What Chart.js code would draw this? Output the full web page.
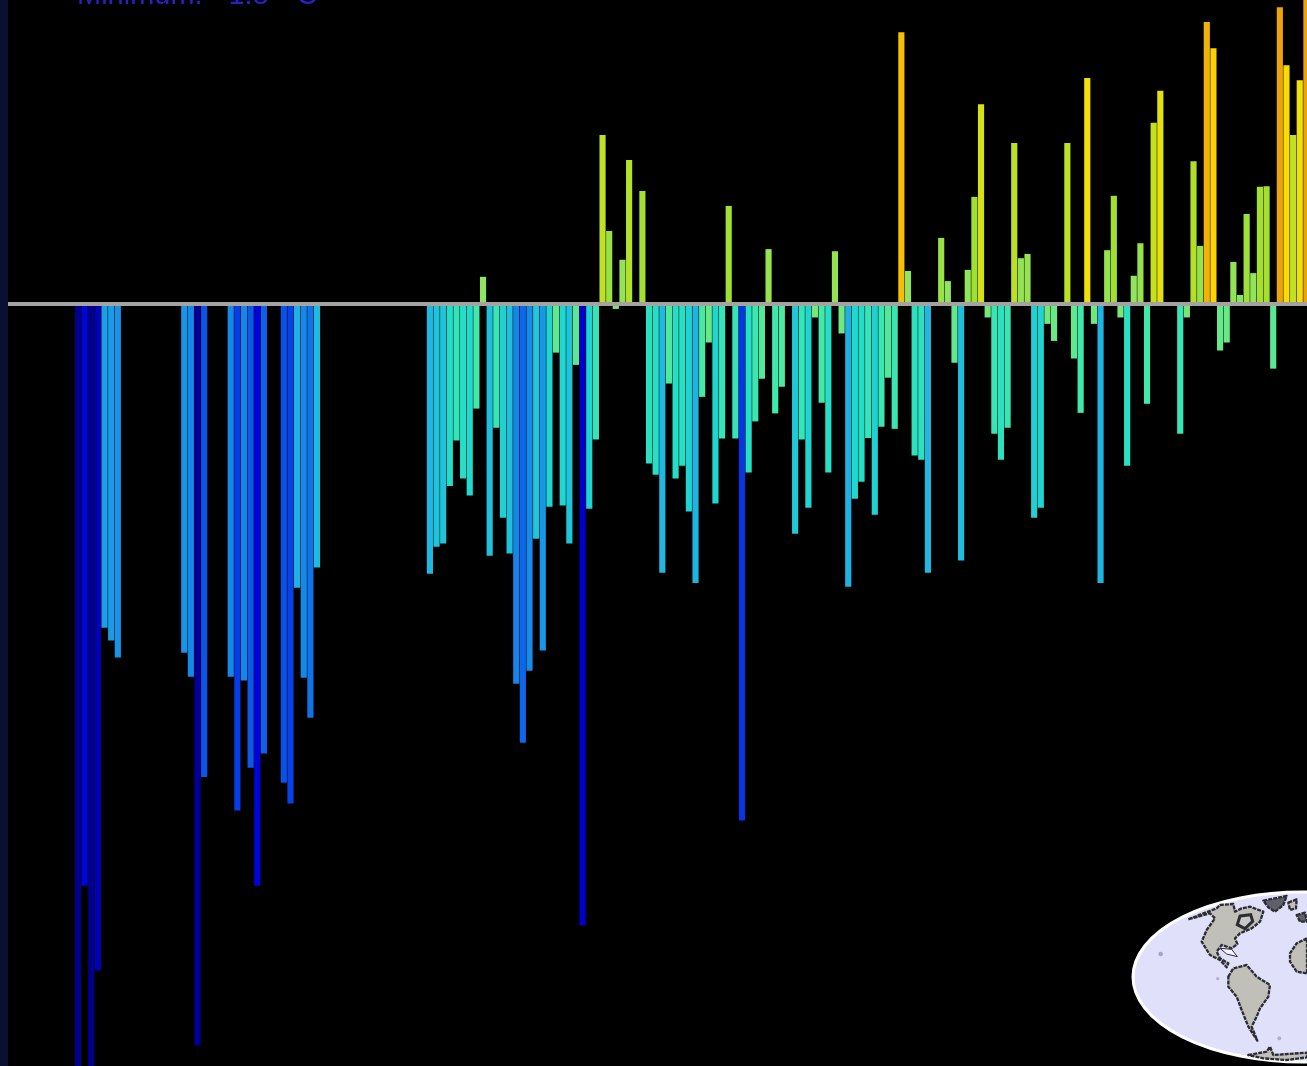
<!DOCTYPE html>
<html>
<head>
<meta charset="utf-8">
<title>Temperature anomaly bars</title>
<script src="https://cdn.jsdelivr.net/npm/chart.js@4"></script>
<style>
  html, body { margin: 0; padding: 0; width: 1307px; height: 1066px; overflow: hidden; background: #0a1130; }
  #panel { position: absolute; left: 8px; top: 0; width: 1299px; height: 1066px; background: #000; overflow: hidden; }
  #chart { display: block; filter: blur(0.7px); }
  #minLabel { position: absolute; left: 69px; top: -22px; font: 29px "Liberation Sans", sans-serif; color: #2a20c4; white-space: pre; filter: blur(0.7px); }
  #globe { position: absolute; left: 1112px; top: 880px; filter: blur(0.6px); }
</style>
</head>
<body>
<div id="panel">
  <canvas id="chart" width="1299" height="1066"></canvas>
  <div id="minLabel">Minimum:  -1.5  °C</div>
  <svg id="globe" width="187" height="186" viewBox="0 0 561 558">
    <ellipse cx="549" cy="291" rx="510" ry="255" fill="#e0e0fb" stroke="#fff" stroke-width="9"/>
    <g fill="#c0c0b8" stroke="#2c2c34" stroke-width="7" stroke-linejoin="round" stroke-dasharray="12 3">
      <path d="M205 118 L250 100 L290 85 L300 75 L340 72 L345 95 L365 85 L390 80 L430 95 L420 125 L395 145 L360 160 L345 175 L352 192 L335 205 L305 195 L290 215 L300 235 L325 250 L320 262 L300 240 L270 225 L245 185 L260 150 L285 115 L270 100 Z"/>
      <path d="M325 290 L340 265 L380 255 L410 290 L450 315 L445 350 L420 385 L410 410 L395 440 L412 482 L385 440 L365 390 L350 350 L325 320 Z"/>
      <path d="M561 175 L530 190 L510 220 L510 245 L530 275 L561 280 Z"/>
      <path d="M385 525 L440 515 L450 500 L460 525 L561 518 L561 532 L500 540 L430 535 Z"/>
      <path d="M430 62 L500 48 L490 75 L465 95 L445 82 Z" fill="#60606a"/>
      <path d="M505 68 L530 58 L528 85 L510 90 Z"/>
      <path d="M530 105 L555 98 L561 125 L540 125 Z" fill="#60606a"/>
    </g>
    <path d="M360 108 L392 104 L398 124 L375 146 L352 134 Z" fill="#c8c8c8" stroke="#2c2c34" stroke-width="9"/>
    <path d="M300 205 L335 208 L352 230 L320 222 Z" fill="#f4f4ff" stroke="#2c2c34" stroke-width="3"/>
    <circle cx="122" cy="222" r="7" fill="#a4a4c8"/>
    <circle cx="293" cy="296" r="5" fill="#b0b0d0"/>
    <circle cx="478" cy="475" r="6" fill="#b0b0d0"/>
  </svg>
</div>
<script>
// anomaly per bar in deg C, null where the source has no bar
const values = [
  -1.45, -1.09, -1.50, -1.249, -0.606, -0.630, -0.662,
  null, null, null, null, null, null, null, null, null,
  -0.653, -0.698, -1.390, -0.886,
  null, null, null,
  -0.698, -0.949, -0.705, -0.869, -1.090, -0.842,
  null, null,
  -0.897, -0.936, -0.531, -0.700, -0.775, -0.493,
  null, null, null, null, null, null, null, null, null, null, null, null, null, null, null, null,
  -0.505, -0.454, -0.448, -0.340, -0.255, -0.326, -0.358, -0.195, 0.051,
  -0.471, -0.231, -0.400, -0.467, -0.711, -0.822, -0.687, -0.439, -0.649,
  -0.379, -0.090, -0.377, -0.448, -0.113, -1.165, -0.383, -0.253,
  0.317, 0.137, -0.008, 0.083, 0.270, null, 0.212,
  -0.298, -0.319, -0.503, -0.148, -0.326, -0.302, -0.388, -0.522, -0.173, -0.071, -0.373, -0.251,
  0.184, -0.251, -0.968, -0.315, -0.219, -0.139, 0.103, -0.204, -0.154, null,
  -0.430, -0.253, -0.381, -0.024, -0.184, -0.315, 0.099, -0.054,
  -0.529, -0.364, -0.332, -0.250, -0.394, -0.229, -0.137, -0.233,
  0.510, 0.062, -0.283, -0.291, -0.503, null,
  0.124, 0.043, -0.109, -0.480, 0.064, 0.201, 0.375,
  -0.024, -0.242, -0.291, -0.231, 0.302, 0.086, 0.094,
  -0.400, -0.381, -0.036, -0.068, null, 0.302, -0.101, -0.203, 0.424,
  -0.036, -0.522, 0.101, 0.203, -0.024, -0.302, 0.053, 0.114, -0.186, 0.340, 0.400,
  null, null,
  -0.242, -0.024, 0.268, 0.109, 0.529, 0.480, -0.086, -0.071,
  0.079, 0.017, 0.169, 0.058, 0.220, 0.221, -0.120, 0.557, 0.448, 0.317, 0.420, 0.600
];

// colour ramp: temperature -> colour
const rampTemps = [-1.45, -1.1, -0.9, -0.65, -0.5, -0.35, -0.2, -0.05, 0.05, 0.2, 0.35, 0.42, 0.47, 0.55];
const rampColors = [
  [0, 0, 140], [0, 0, 216], [10, 80, 232], [24, 150, 232], [32, 184, 224], [32, 220, 204],
  [64, 232, 172], [112, 232, 128], [144, 228, 96], [160, 224, 48], [200, 224, 32], [240, 224, 10], [255, 216, 0], [235, 165, 10]
];

function tempColor(t) {
  if (t == null) return 'transparent';
  let k = rampTemps.findIndex(v => v > t);
  if (k <= 0) k = k === 0 ? 1 : rampTemps.length - 1;
  const f = Math.min(1, Math.max(0, (t - rampTemps[k - 1]) / (rampTemps[k] - rampTemps[k - 1])));
  const c = rampColors[k - 1].map((v, j) => Math.round(v + (rampColors[k][j] - v) * f));
  return `rgb(${c[0]},${c[1]},${c[2]})`;
}

new Chart(document.getElementById('chart'), {
  type: 'bar',
  data: {
    datasets: [{
      data: values.map((v, i) => ({ x: i, y: v })),
      backgroundColor: values.map(tempColor),
      barThickness: 5.5,
      borderWidth: 0
    }]
  },
  options: {
    responsive: false,
    animation: false,
    layout: { padding: 0 },
    plugins: { legend: { display: false }, tooltip: { enabled: false } },
    scales: {
      x: {
        type: 'linear',
        position: { y: 0 },
        min: -10.54,
        max: 185.09,
        offset: false,
        grid: { display: false },
        ticks: { display: false },
        border: { display: true, color: '#a6a2a2', width: 4, z: 1 }
      },
      y: { display: false, min: -1.429, max: 0.571 }
    }
  }
});
</script>
</body>
</html>
